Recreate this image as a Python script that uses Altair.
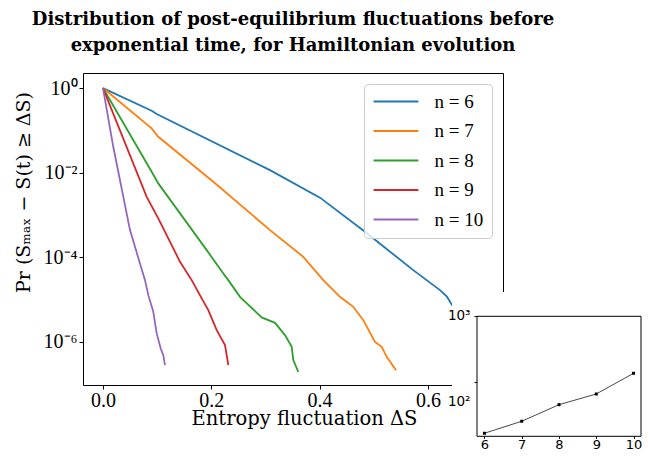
import altair as alt
import pandas as pd

# ---------------- data ----------------
series_names = ["n = 6", "n = 7", "n = 8", "n = 9", "n = 10"]
series_colors = ["#1f77b4", "#ff7f0e", "#2ca02c", "#d62728", "#9467bd"]

# entropy fluctuation ΔS and log10 of the tail probability
n6_dS = [0.0, 0.0899, 0.0992, 0.3084, 0.4007, 0.4838, 0.5730, 0.6223, 0.6352, 0.6458]
n6_log10p = [0.0, -0.537, -0.615, -1.939, -2.59, -3.397, -4.303, -4.775, -4.93, -5.154]

n7_dS = [0.0, 0.0899, 0.1021, 0.2037, 0.3084, 0.3699, 0.4068, 0.4376, 0.4622, 0.4807,
         0.5023, 0.5147, 0.5239, 0.5411]
n7_log10p = [0.0, -0.953, -1.151, -2.215, -3.357, -3.988, -4.539, -4.934, -5.170, -5.485,
             -5.998, -6.116, -6.352, -6.667]

n8_dS = [0.0, 0.0899, 0.1021, 0.1915, 0.2222, 0.2314, 0.2530, 0.2931, 0.3176, 0.3361,
         0.3485, 0.3514, 0.3607]
n8_log10p = [0.0, -1.979, -2.253, -3.830, -4.381, -4.539, -4.934, -5.421, -5.548, -5.839,
             -6.116, -6.430, -6.707]

n9_dS = [0.0, 0.0807, 0.1021, 0.1422, 0.1638, 0.1823, 0.1945, 0.2100, 0.2253, 0.2284, 0.2314]
n9_log10p = [0.0, -2.570, -3.080, -4.106, -4.539, -4.972, -5.248, -5.721, -6.076, -6.312, -6.548]

n10_dS = [0.0, 0.0190, 0.0499, 0.0683, 0.0776, 0.0837, 0.0929, 0.0992, 0.1066, 0.1114, 0.1145]
n10_log10p = [0.0, -1.388, -3.357, -4.144, -4.539, -4.894, -5.288, -5.799, -6.154, -6.312, -6.548]

x_ticks = [0.0, 0.2, 0.4, 0.6]
y_ticks = [1, 1e-2, 1e-4, 1e-6]
x_limits = [-0.0369, 0.7387]
y_limits = [9.6e-8, 2.27]

# inset
inset_n = [6, 7, 8, 9, 10]
inset_values = [16.9, 25.7, 45.8, 66.5, 137]
inset_xlim = [5.8, 10.2]
inset_ylim = [15.2, 1000]
inset_yticks = [100, 1000]

title_lines = ["Distribution of post-equilibrium fluctuations before",
               "exponential time, for Hamiltonian evolution"]

# ---------------- tables ----------------
rows = []
for name, xs, ls in zip(series_names,
                        [n6_dS, n7_dS, n8_dS, n9_dS, n10_dS],
                        [n6_log10p, n7_log10p, n8_log10p, n9_log10p, n10_log10p]):
    for i, (xv, lv) in enumerate(zip(xs, ls)):
        rows.append({"series": name, "order": i, "dS": xv, "log10p": lv})
df = pd.DataFrame(rows)

inset_df = pd.DataFrame({"n": inset_n, "v": inset_values})
frame_df = pd.DataFrame({"x": [inset_xlim[0]], "x2": [inset_xlim[1]],
                         "y": [inset_ylim[0]], "y2": [inset_ylim[1]]})
cover_df = pd.DataFrame({"k": [0]})

SERIF = "Liberation Serif"
SERIF_W = "DejaVu Serif"
SANS = "DejaVu Sans"

# ---------------- main chart ----------------
main = alt.Chart(df).transform_calculate(
    p="pow(10, datum.log10p)"
).mark_line(strokeWidth=1.8).encode(
    x=alt.X("dS:Q",
            scale=alt.Scale(domain=x_limits, nice=False, zero=False),
            axis=alt.Axis(values=x_ticks, format=".1f", domain=False, grid=False,
                          tickSize=4, tickColor="black", labelColor="black",
                          labelFont=SERIF, labelFontSize=20, labelPadding=1,
                          title="Entropy fluctuation ΔS", titleFont=SERIF_W,
                          titleFontSize=19.5, titleFontWeight="normal", titleColor="black",
                          titleX=221, titleY=39, titleBaseline="alphabetic",
                          titleAlign="center")),
    y=alt.Y("p:Q",
            scale=alt.Scale(type="log", domain=y_limits, nice=False),
            axis=alt.Axis(values=y_ticks, domain=False, grid=False,
                          labelExpr="datum.value >= 0.5 ? '10⁰' : datum.value >= 0.005 ? '10⁻²' : datum.value >= 0.00005 ? '10⁻⁴' : '10⁻⁶'",
                          tickSize=4, tickColor="black", labelColor="black",
                          labelFont=SERIF, labelFontSize=20, labelPadding=2,
                          title="Pr (Sₘₐₓ − S(t) ≥ ΔS)", titleFont=SERIF_W,
                          titleFontSize=19, titleFontWeight="normal", titleColor="black",
                          titleAngle=270, titleX=-60, titleY=119,
                          titleAlign="center", titleBaseline="middle")),
    color=alt.Color("series:N",
                    scale=alt.Scale(domain=series_names, range=series_colors),
                    legend=alt.Legend(title=None, orient="none", legendX=281, legendY=11,
                                      fillColor="rgba(255,255,255,0.8)",
                                      strokeColor="#cccccc", cornerRadius=4, padding=8,
                                      symbolType="M-2.8,0L2.8,0", symbolStrokeWidth=2,
                                      symbolSize=256, symbolOpacity=1,
                                      symbolOffset=14.5,
                                      labelFont=SERIF, labelFontSize=19,
                                      labelColor="black", labelOffset=29,
                                      rowPadding=9.5)),
    order="order:Q",
)

# ---------------- inset ----------------
inset_x_scale = alt.Scale(domain=inset_xlim, range=[394, 558], nice=False, zero=False)
inset_y_scale = alt.Scale(type="log", domain=inset_ylim, range=[363.3, 243.3], nice=False)

inset_x_axis = alt.Axis(orient="bottom", offset=51.3, values=inset_n, format="d",
                        domain=False, grid=False, tickSize=2, tickColor="black",
                        labelFont=SANS, labelFontSize=13, labelColor="black",
                        labelPadding=0, title=None, zindex=2)
inset_y_axis = alt.Axis(orient="left", offset=-394, values=inset_yticks,
                        domain=False, grid=False, tickSize=3, tickColor="black",
                        labelExpr="datum.value >= 500 ? '10³' : '10²'",
                        labelFont=SANS, labelFontSize=13.5, labelColor="black",
                        labelPadding=4,
                        labelOffset={"condition": {"test": "datum.value >= 500", "value": -1},
                                     "value": 19},
                        title=None, zindex=2)

cover = alt.Chart(cover_df).mark_rect(fill="white", stroke="white", strokeWidth=0).encode(
    x=alt.value(369), x2=alt.value(570), y=alt.value(219), y2=alt.value(390)
)

frame = alt.Chart(frame_df).mark_rect(fill="white", stroke="black", strokeWidth=1).encode(
    x=alt.X("x:Q", scale=inset_x_scale, axis=inset_x_axis),
    x2="x2:Q",
    y=alt.Y("y:Q", scale=inset_y_scale, axis=inset_y_axis),
    y2="y2:Q",
)

inset_line = alt.Chart(inset_df).mark_line(color="#333333", strokeWidth=0.9).encode(
    x=alt.X("n:Q", scale=inset_x_scale, axis=inset_x_axis),
    y=alt.Y("v:Q", scale=inset_y_scale, axis=inset_y_axis),
)
inset_pts = alt.Chart(inset_df).mark_square(size=9, color="black", opacity=1).encode(
    x=alt.X("n:Q", scale=inset_x_scale, axis=inset_x_axis),
    y=alt.Y("v:Q", scale=inset_y_scale, axis=inset_y_axis),
)

inset = alt.layer(cover, frame, inset_line, inset_pts)

chart = alt.layer(main, inset).resolve_scale(
    x="independent", y="independent"
).properties(
    width=420, height=312,
    autosize=alt.AutoSizeParams(type="none"),
    padding={"left": 75, "top": 65, "right": 139, "bottom": 70},
    title=alt.TitleParams(text=title_lines, font="DejaVu Serif", fontSize=18,
                          fontWeight="bold", anchor="middle", frame="group",
                          lineHeight=26, offset=18, color="black"),
).configure_view(stroke="black", strokeWidth=1)

chart.save("out.html", embed_options={"renderer": "svg", "actions": False})
